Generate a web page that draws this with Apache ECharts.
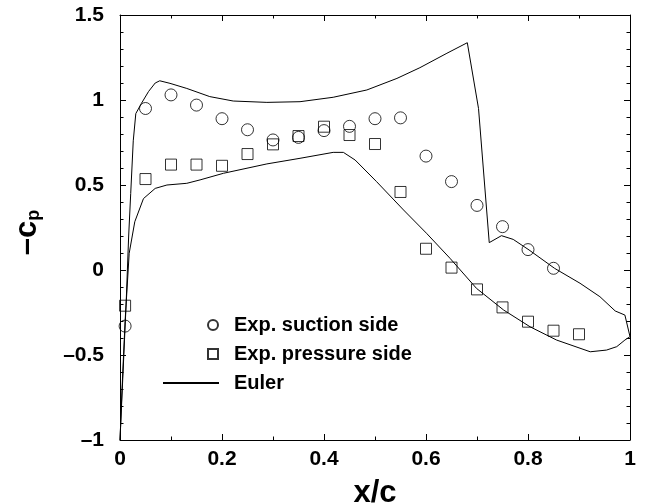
<!DOCTYPE html>
<html>
<head>
<meta charset="utf-8">
<script src="https://cdn.jsdelivr.net/npm/echarts@6/dist/echarts.min.js"></script>
<style>html,body{margin:0;padding:0;background:#fff;}#c{width:647px;height:504px;}</style>
</head>
<body>
<div id="c"></div>
<script>
// Experimental suction side
const suctionX = [0.01, 0.05, 0.10, 0.15, 0.20, 0.25, 0.30, 0.35, 0.40, 0.45, 0.50, 0.55, 0.60, 0.65, 0.70, 0.75, 0.80, 0.85];
const suctionY = [-0.33, 0.95, 1.03, 0.97, 0.89, 0.825, 0.765, 0.78, 0.82, 0.845, 0.89, 0.895, 0.67, 0.52, 0.38, 0.255, 0.12, 0.01];
// Experimental pressure side
const pressureX = [0.01, 0.05, 0.10, 0.15, 0.20, 0.25, 0.30, 0.35, 0.40, 0.45, 0.50, 0.55, 0.60, 0.65, 0.70, 0.75, 0.80, 0.85, 0.90];
const pressureY = [-0.21, 0.535, 0.62, 0.62, 0.613, 0.682, 0.739, 0.788, 0.843, 0.794, 0.741, 0.459, 0.125, 0.014, -0.114, -0.22, -0.304, -0.357, -0.378];
// Euler solution (closed curve: LE -> upper surface -> TE -> lower surface -> LE)
const eulerX = [0, 0.006, 0.012, 0.017, 0.021, 0.026, 0.031, 0.042, 0.056, 0.069, 0.078, 0.098, 0.131, 0.176, 0.222, 0.288, 0.353, 0.418, 0.484, 0.543, 0.588, 0.641, 0.681, 0.703, 0.724, 0.748, 0.771, 0.802, 0.852, 0.902, 0.941, 0.971, 0.99, 1.0,
  0.99, 0.974, 0.954, 0.922, 0.856, 0.804, 0.752, 0.699, 0.647, 0.601, 0.556, 0.503, 0.461, 0.438, 0.418, 0.353, 0.288, 0.203, 0.157, 0.131, 0.092, 0.069, 0.046, 0.029, 0.018, 0.01, 0.004, 0];
const eulerY = [-1, -0.6, -0.2, 0.2, 0.45, 0.76, 0.92, 0.98, 1.05, 1.1, 1.113, 1.098, 1.068, 1.02, 0.994, 0.986, 0.99, 1.016, 1.059, 1.127, 1.19, 1.275, 1.337, 0.95, 0.161, 0.202, 0.18, 0.118, 0.01, -0.078, -0.157, -0.241, -0.265, -0.392,
  -0.412, -0.451, -0.471, -0.481, -0.412, -0.334, -0.235, -0.108, 0.069, 0.216, 0.353, 0.52, 0.647, 0.692, 0.692, 0.657, 0.624, 0.569, 0.53, 0.51, 0.5, 0.48, 0.42, 0.284, 0.098, -0.3, -0.7, -1];
const seriesNames = ['Exp. suction side', 'Exp. pressure side', 'Euler'];

const zip = (xs, ys) => xs.map((x, i) => [x, ys[i]]);
const font = 'Liberation Sans, Arial, sans-serif';
const fmt = v => {
  const s = String(Math.round(v * 10) / 10);
  return s.replace('-', '\u2013');
};
const axLine = { show: true, onZero: false, lineStyle: { color: '#000', width: 1 } };
const tick = { show: true, inside: true, length: 6, lineStyle: { color: '#000', width: 1 } };
const minor = (n) => ({ show: true, splitNumber: n, length: 3.5, lineStyle: { color: '#000', width: 1 } });
const lab = { color: '#000', fontSize: 21, fontWeight: 'bold', fontFamily: font };

const chart = echarts.init(document.getElementById('c'), null, { renderer: 'canvas' });
const legendText = { color: '#000', fontSize: 20, fontWeight: 'bold', fontFamily: font };
chart.setOption({
  backgroundColor: '#fff',
  animation: false,
  grid: { left: 120, right: 17, top: 15, bottom: 64, containLabel: false, outerBoundsMode: 'none' },
  xAxis: [
    { type: 'value', min: 0, max: 1, interval: 0.2, position: 'bottom',
      axisLine: axLine, axisTick: tick, minorTick: minor(2), splitLine: { show: false },
      axisLabel: Object.assign({}, lab, { margin: 9, formatter: fmt }),
      name: 'x/c', nameLocation: 'middle', nameGap: 38,
      nameTextStyle: { color: '#000', fontSize: 31, fontWeight: 'bold', fontFamily: font } },
    { type: 'value', min: 0, max: 1, interval: 0.2, position: 'top',
      axisLine: axLine, axisTick: tick, minorTick: minor(2), splitLine: { show: false },
      axisLabel: { show: false } }
  ],
  yAxis: [
    { type: 'value', min: -1, max: 1.5, interval: 0.5, position: 'left',
      axisLine: axLine, axisTick: tick, minorTick: minor(5), splitLine: { show: false },
      axisLabel: Object.assign({}, lab, { margin: 16, formatter: fmt }),
      name: '{a|\u2013c}{b|p}', nameLocation: 'middle', nameGap: 77, nameRotate: 90,
      nameTextStyle: {
        rich: {
          a: { color: '#000', fontSize: 31, fontWeight: 'bold', fontFamily: font, lineHeight: 42, verticalAlign: 'bottom' },
          b: { color: '#000', fontSize: 18, fontWeight: 'bold', fontFamily: font, lineHeight: 18, verticalAlign: 'bottom', padding: [0, 10, 0, 0] }
        }
      } },
    { type: 'value', min: -1, max: 1.5, interval: 0.5, position: 'right',
      axisLine: axLine, axisTick: tick, minorTick: minor(5), splitLine: { show: false },
      axisLabel: { show: false } }
  ],
  legend: [
    { data: [seriesNames[0]], left: 207, top: 315, padding: 0, itemWidth: 10, itemHeight: 10,
      textStyle: Object.assign({}, legendText, { padding: [0, 0, 0, 11] }), selectedMode: false },
    { data: [seriesNames[1]], left: 207, top: 344, padding: 0, itemWidth: 10, itemHeight: 10,
      textStyle: Object.assign({}, legendText, { padding: [0, 0, 0, 11] }), selectedMode: false },
    { data: [{ name: seriesNames[2], itemStyle: { opacity: 0 } }], left: 162, top: 373, padding: 0, itemWidth: 56, itemHeight: 10,
      textStyle: Object.assign({}, legendText, { padding: [0, 0, 0, 10] }), selectedMode: false }
  ],
  series: [
    { name: seriesNames[2], type: 'line', data: zip(eulerX, eulerY), symbol: 'none',
      lineStyle: { color: '#000', width: 1 }, itemStyle: { color: '#000' }, z: 2 },
    { name: seriesNames[0], type: 'scatter', data: zip(suctionX, suctionY), symbol: 'circle', symbolSize: 12,
      itemStyle: { color: 'rgba(255,255,255,0)', borderColor: '#000', borderWidth: 1 }, z: 3 },
    { name: seriesNames[1], type: 'scatter', data: zip(pressureX, pressureY), symbol: 'rect', symbolSize: 11,
      itemStyle: { color: 'rgba(255,255,255,0)', borderColor: '#000', borderWidth: 1 }, z: 3 }
  ]
});
</script>
</body>
</html>
